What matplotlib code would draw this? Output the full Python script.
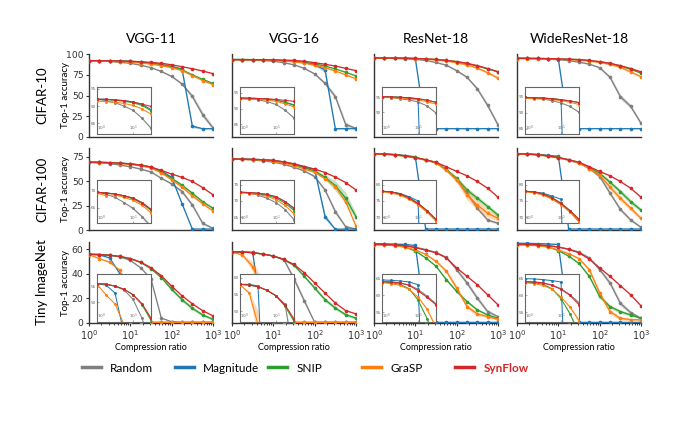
import numpy as np
import matplotlib
matplotlib.use('Agg')
import matplotlib.pyplot as plt
from matplotlib.lines import Line2D
import matplotlib.ticker as mticker

# ---------------- data ----------------
ratios = [1, 1.78, 3.16, 5.62, 10, 17.8, 31.6, 56.2, 100, 178, 316, 562, 1000]
methods = ['random', 'magnitude', 'snip', 'grasp', 'synflow']
labels = ['Random', 'Magnitude', 'SNIP', 'GraSP', 'SynFlow']
colors = ['#7f7f7f', '#1f77b4', '#2ca02c', '#ff7f0e', '#d62728']
models = ['VGG-11', 'VGG-16', 'ResNet-18', 'WideResNet-18']
datasets = ['CIFAR-10', 'CIFAR-100', 'Tiny ImageNet']

c10_vgg11 = dict(
    random=[92.0, 91.6, 91.0, 90.0, 88.8, 86.5, 83.6, 79.0, 73.0, 64.0, 49.0, 27.0, 11.0],
    magnitude=[92.0, 92.0, 91.8, 91.6, 91.2, 90.5, 89.0, 87.3, 85.0, 82.0, 13.0, 10.0, 10.0],
    snip=[92.0, 91.9, 91.7, 91.4, 91.0, 90.2, 88.7, 87.0, 84.7, 81.0, 75.0, 69.5, 64.5],
    grasp=[91.5, 91.3, 91.1, 90.8, 90.2, 89.2, 87.7, 86.0, 83.5, 80.0, 74.0, 68.0, 63.0],
    synflow=[92.0, 92.0, 91.8, 91.6, 91.2, 90.6, 89.9, 88.8, 87.0, 84.7, 82.3, 79.5, 76.3])
c10_vgg16 = dict(
    random=[93.3, 93.1, 92.8, 92.2, 91.3, 89.5, 87.0, 82.7, 76.0, 64.7, 48.6, 15.0, 10.4],
    magnitude=[93.3, 93.3, 93.2, 93.0, 92.7, 92.0, 91.0, 89.5, 87.0, 81.0, 10.0, 10.0, 10.0],
    snip=[93.3, 93.3, 93.2, 93.0, 92.7, 92.0, 91.2, 90.0, 88.0, 85.5, 82.0, 78.0, 73.5],
    grasp=[93.0, 93.0, 92.9, 92.7, 92.3, 91.5, 90.5, 89.0, 86.5, 83.5, 79.5, 75.0, 70.0],
    synflow=[93.3, 93.3, 93.2, 93.1, 92.9, 92.6, 92.3, 91.2, 89.5, 87.6, 85.5, 82.7, 80.0])
c10_resnet18 = dict(
    random=[95.2, 95.0, 94.6, 94.2, 93.5, 92.2, 89.8, 86.5, 80.0, 72.0, 58.0, 38.0, 14.5],
    magnitude=[95.3, 95.2, 95.1, 94.9, 94.5, 10.0, 10.0, 10.0, 10.0, 10.0, 10.0, 10.0, 10.0],
    snip=[95.3, 95.2, 95.1, 94.9, 94.6, 94.1, 93.4, 92.3, 90.8, 88.5, 85.5, 82.0, 78.5],
    grasp=[95.0, 95.0, 94.8, 94.6, 94.2, 93.6, 92.8, 91.5, 89.5, 87.0, 83.0, 77.5, 71.0],
    synflow=[95.3, 95.2, 95.1, 94.9, 94.6, 94.1, 93.4, 92.3, 90.8, 88.8, 86.0, 82.5, 78.7])
c10_wrn18 = dict(
    random=[94.8, 94.6, 94.3, 93.8, 93.1, 92.0, 90.2, 87.8, 83.5, 72.0, 48.6, 37.0, 16.5],
    magnitude=[94.8, 94.7, 94.6, 94.4, 94.1, 10.0, 10.0, 10.0, 10.0, 10.0, 10.0, 10.0, 10.0],
    snip=[94.8, 94.7, 94.6, 94.4, 94.1, 93.7, 93.2, 92.1, 90.6, 88.5, 85.5, 81.5, 77.0],
    grasp=[94.5, 94.4, 94.3, 94.1, 93.8, 93.3, 92.6, 91.4, 89.8, 87.5, 84.0, 78.5, 72.7],
    synflow=[94.8, 94.7, 94.6, 94.4, 94.1, 93.7, 93.2, 92.2, 90.8, 88.8, 86.0, 82.5, 78.5])

c100_vgg11 = dict(
    random=[69.5, 69.0, 68.0, 66.5, 64.8, 62.4, 59.5, 53.0, 47.3, 39.4, 25.7, 6.9, 1.7],
    magnitude=[69.5, 69.3, 69.0, 68.5, 67.8, 66.5, 64.5, 60.5, 54.0, 27.0, 1.0, 1.0, 1.0],
    snip=[69.5, 69.3, 69.0, 68.4, 67.6, 66.2, 64.2, 59.5, 53.0, 46.0, 37.7, 29.0, 22.3],
    grasp=[69.3, 68.5, 68.8, 68.0, 67.2, 65.7, 63.5, 58.5, 51.5, 44.0, 35.0, 27.0, 19.5],
    synflow=[69.5, 69.3, 69.0, 68.5, 67.8, 66.5, 64.5, 61.0, 57.3, 54.0, 49.7, 43.5, 36.0])
c100_vgg16 = dict(
    random=[72.7, 72.4, 71.8, 70.8, 69.5, 67.3, 64.2, 60.5, 54.8, 41.0, 18.8, 3.4, 1.0],
    magnitude=[72.7, 72.6, 72.4, 72.0, 71.3, 69.8, 67.5, 64.8, 62.0, 13.7, 0.7, 1.0, 1.0],
    snip=[72.7, 72.5, 72.2, 71.7, 70.9, 69.3, 67.0, 63.8, 60.5, 54.0, 45.5, 32.6, 13.7],
    grasp=[72.5, 72.3, 72.0, 71.4, 70.4, 68.6, 66.0, 62.5, 59.0, 52.5, 44.5, 29.0, 4.0],
    synflow=[72.7, 72.6, 72.4, 72.0, 71.3, 69.8, 67.8, 65.0, 62.4, 58.9, 54.2, 48.6, 41.0])
c100_resnet18 = dict(
    random=[78.0, 77.7, 77.0, 75.8, 74.0, 71.6, 68.8, 62.0, 51.4, 37.7, 22.3, 10.3, 6.9],
    magnitude=[78.0, 77.8, 77.3, 76.3, 75.0, 1.0, 1.0, 1.0, 1.0, 1.0, 1.0, 1.0, 1.0],
    snip=[78.0, 77.8, 77.2, 76.0, 74.3, 72.0, 69.2, 62.0, 53.0, 41.0, 32.6, 24.0, 15.4],
    grasp=[77.8, 77.5, 76.8, 75.5, 73.8, 71.5, 68.8, 61.0, 51.4, 36.0, 25.7, 17.0, 12.0],
    synflow=[78.0, 77.8, 77.2, 76.0, 74.2, 72.0, 69.3, 64.8, 60.0, 55.5, 49.7, 42.8, 33.6])
c100_wrn18 = dict(
    random=[78.0, 77.7, 77.0, 75.8, 74.0, 71.6, 68.5, 63.0, 54.8, 37.7, 21.2, 10.3, 2.8],
    magnitude=[78.0, 77.8, 77.4, 76.5, 75.5, 1.0, 1.0, 1.0, 1.0, 1.0, 1.0, 1.0, 1.0],
    snip=[78.0, 77.8, 77.2, 76.0, 74.3, 72.0, 69.2, 64.0, 58.0, 49.0, 39.4, 29.0, 20.5],
    grasp=[77.8, 77.5, 76.8, 75.5, 73.8, 71.5, 68.6, 63.0, 56.0, 44.0, 32.6, 22.3, 12.0],
    synflow=[78.0, 77.8, 77.2, 76.0, 74.2, 72.0, 69.3, 64.8, 60.0, 55.5, 49.7, 42.8, 33.6])

tiny_vgg11 = dict(
    random=[56.0, 55.8, 55.2, 54.0, 51.0, 45.0, 36.0, 4.0, 1.0, 0.5, 0.5, 0.5, 0.5],
    magnitude=[56.0, 55.5, 53.0, 40.0, 0.5, 0.5, 0.5, 0.5, 0.5, 0.5, 0.5, 0.5, 0.5],
    snip=[56.0, 55.8, 55.2, 54.2, 52.4, 49.3, 44.3, 37.0, 27.5, 19.0, 12.0, 6.6, 3.0],
    grasp=[55.8, 52.4, 49.5, 43.0, 1.0, 0.5, 0.5, 0.5, 0.5, 0.5, 0.5, 0.5, 0.5],
    synflow=[56.0, 55.8, 55.2, 54.2, 52.5, 49.6, 45.0, 38.5, 30.0, 22.2, 15.6, 10.1, 5.8])
tiny_vgg16 = dict(
    random=[58.0, 57.8, 57.3, 56.2, 54.6, 52.0, 36.0, 18.0, 0.5, 0.5, 0.5, 0.5, 0.5],
    magnitude=[58.0, 58.0, 57.5, 0.5, 0.5, 0.5, 0.5, 0.5, 0.5, 0.5, 0.5, 0.5, 0.5],
    snip=[58.0, 57.8, 57.3, 56.2, 54.5, 51.5, 47.0, 38.0, 28.5, 19.0, 12.2, 6.8, 4.0],
    grasp=[57.8, 55.5, 46.0, 25.0, 6.0, 1.0, 0.5, 0.5, 0.5, 0.5, 0.5, 0.5, 0.5],
    synflow=[58.0, 57.8, 57.3, 56.2, 54.6, 51.8, 47.7, 40.9, 32.6, 24.4, 16.2, 10.1, 7.4])
tiny_resnet18 = dict(
    random=[64.1, 64.0, 63.7, 63.1, 61.8, 59.8, 57.5, 53.5, 43.5, 32.6, 20.3, 9.3, 5.2],
    magnitude=[64.6, 64.5, 64.3, 64.0, 63.2, 0.5, 0.5, 0.5, 0.5, 0.5, 0.5, 0.5, 0.5],
    snip=[64.0, 63.8, 63.3, 62.0, 58.6, 53.1, 46.3, 35.3, 25.7, 17.5, 10.7, 6.6, 3.8],
    grasp=[63.8, 63.5, 63.0, 61.8, 59.5, 55.9, 50.4, 42.2, 28.5, 13.4, 7.4, 5.2, 3.0],
    synflow=[64.1, 64.0, 63.7, 63.0, 61.4, 59.4, 57.2, 53.1, 44.9, 38.0, 31.2, 23.0, 14.8])
tiny_wrn18 = dict(
    random=[64.1, 64.0, 63.7, 63.1, 62.0, 60.2, 57.8, 53.0, 43.5, 32.6, 16.0, 8.5, 3.8],
    magnitude=[65.0, 64.9, 64.7, 64.4, 64.0, 0.5, 0.5, 0.5, 0.5, 0.5, 0.5, 0.5, 0.5],
    snip=[64.0, 63.8, 63.3, 62.0, 59.0, 54.5, 48.6, 38.0, 21.6, 13.4, 9.3, 6.6, 3.8],
    grasp=[63.8, 63.5, 63.0, 61.8, 59.5, 56.5, 52.5, 43.5, 24.4, 9.3, 3.8, 2.8, 2.5],
    synflow=[64.1, 64.0, 63.7, 63.0, 61.8, 60.0, 57.2, 52.0, 44.9, 38.0, 30.4, 23.0, 14.0])

# spread (shaded bands) for the runs where it is visible
c10_vgg11_std = dict(random=[0, 0, 0, 0, 0, 0, 0.3, 0.5, 1.0, 1.5, 2.5, 3.5, 2.5],
                     magnitude=[0, 0, 0, 0, 0, 0, 0, 0, 0, 0.5, 2.0, 0.5, 0])
c10_vgg16_std = dict(random=[0, 0, 0, 0, 0, 0, 0.3, 0.5, 1.0, 2.0, 3.0, 3.0, 1.0],
                     magnitude=[0, 0, 0, 0, 0, 0, 0, 0, 1.5, 3.0, 0.5, 0, 0])
c10_resnet18_std = dict(random=[0, 0, 0, 0, 0, 0, 0.3, 0.5, 1.0, 1.5, 2.0, 2.5, 2.5],
                        grasp=[0, 0, 0, 0, 0, 0, 0, 0.3, 0.5, 0.8, 1.0, 1.5, 1.5])
c10_wrn18_std = dict(random=[0, 0, 0, 0, 0, 0, 0.3, 0.5, 1.0, 2.0, 3.0, 2.5, 2.0],
                     grasp=[0, 0, 0, 0, 0, 0, 0, 0.3, 0.5, 0.8, 1.0, 1.2, 1.2])
c100_vgg11_std = dict(random=[0, 0, 0, 0, 0.3, 0.4, 0.6, 0.8, 1.0, 1.5, 2.0, 1.5, 0.5],
                      snip=[0, 0, 0, 0, 0, 0, 0, 0.5, 0.8, 1.0, 1.2, 1.2, 1.0],
                      grasp=[0, 0, 0, 0, 0, 0, 0, 0.5, 0.8, 1.0, 1.2, 1.2, 1.0])
c100_vgg16_std = dict(random=[0, 0, 0, 0, 0, 0, 0.3, 0.5, 1.0, 1.5, 2.5, 1.0, 0],
                      magnitude=[0, 0, 0, 0, 0, 0, 0, 0, 0.5, 3.0, 0.5, 0, 0],
                      snip=[0, 0, 0, 0, 0, 0, 0, 0.5, 1.0, 2.5, 5.0, 6.0, 3.0])
c100_resnet18_std = dict(random=[0, 0, 0, 0, 0, 0, 0.3, 0.8, 1.5, 2.0, 2.0, 1.5, 1.0],
                         snip=[0, 0, 0, 0, 0, 0, 0.3, 1.0, 2.0, 2.5, 2.5, 2.5, 2.0],
                         grasp=[0, 0, 0, 0, 0, 0, 0.5, 1.5, 3.0, 5.0, 5.0, 4.0, 3.0])
c100_wrn18_std = dict(random=[0, 0, 0, 0, 0, 0, 0.3, 0.8, 1.5, 2.0, 2.0, 1.5, 1.0],
                      snip=[0, 0, 0, 0, 0, 0, 0.3, 1.0, 1.5, 2.0, 2.5, 2.5, 2.0],
                      grasp=[0, 0, 0, 0, 0, 0, 0.5, 1.0, 2.0, 3.0, 3.0, 2.5, 2.0])
tiny_vgg11_std = dict(snip=[0, 0, 0, 0, 0, 0.3, 0.6, 1.0, 1.5, 1.5, 1.5, 1.2, 1.0])
tiny_vgg16_std = dict(random=[0, 0, 0, 0, 0, 0.5, 2.0, 2.0, 0, 0, 0, 0, 0],
                      snip=[0, 0, 0, 0, 0, 0.3, 0.6, 1.0, 1.5, 1.5, 1.5, 1.2, 1.0],
                      grasp=[0, 0.5, 4.0, 10.0, 8.0, 2.0, 0, 0, 0, 0, 0, 0, 0])
tiny_resnet18_std = dict(random=[0, 0, 0, 0, 0, 0, 0.3, 0.8, 1.5, 2.0, 2.0, 1.5, 1.0],
                         snip=[0, 0, 0, 0, 0, 0.3, 0.5, 1.0, 1.0, 1.0, 1.0, 0.8, 0.6],
                         grasp=[0, 0, 0, 0, 0, 0.3, 0.6, 1.5, 2.0, 2.0, 1.5, 1.0, 0.8])
tiny_wrn18_std = dict(random=[0, 0, 0, 0, 0, 0, 0.3, 0.8, 1.5, 2.0, 2.0, 1.5, 1.0],
                      snip=[0, 0, 0, 0, 0, 0.3, 0.5, 1.0, 1.5, 1.5, 1.5, 1.0, 0.6],
                      grasp=[0, 0, 0, 0, 0, 0.3, 0.6, 1.5, 2.0, 2.0, 1.5, 1.0, 0.8])

panels = [[c10_vgg11, c10_vgg16, c10_resnet18, c10_wrn18],
          [c100_vgg11, c100_vgg16, c100_resnet18, c100_wrn18],
          [tiny_vgg11, tiny_vgg16, tiny_resnet18, tiny_wrn18]]
panel_stds = [[c10_vgg11_std, c10_vgg16_std, c10_resnet18_std, c10_wrn18_std],
              [c100_vgg11_std, c100_vgg16_std, c100_resnet18_std, c100_wrn18_std],
              [tiny_vgg11_std, tiny_vgg16_std, tiny_resnet18_std, tiny_wrn18_std]]

main_ylim = [(0, 100), (0, 84), (0, 66)]
main_yticks = [[0, 25, 50, 75, 100], [0, 25, 50, 75], [0, 20, 40, 60]]
inset_ylims = [[(82, 95.5), (82, 96.8), (82.8, 98.5), (83.5, 98)],
               [(60.4, 73.1), (63.0, 76.5), (68.0, 81.5), (68.0, 81.5)],
               [(43.7, 59.2), (46.7, 61.2), (52, 66.5), (52, 66.5)]]
inset_yticks = [[[85, 90, 95], [85, 90, 95], [90, 95], [85, 90, 95]],
                [[65, 70], [65, 70, 75], [70, 75, 80], [70, 75, 80]],
                [[50, 55], [50, 55, 60], [55, 60, 65], [55, 60, 65]]]

# ---------------- layout ----------------
W, H = 680, 421
fig = plt.figure(figsize=(W / 100, H / 100), dpi=100)
col_left = [89, 232, 374, 517]
axw = 124
row_top = [54, 148, 242]
row_bot = [137, 230, 323]
inset_b = [0.04, 0.08, 0.01]
inset_t = [0.60, 0.61, 0.61]
LABEL_FONT = ['Lato', 'DejaVu Sans']
spine_c = '#333333'


def draw(ax, data, std, lw, ms):
    for k, (m, c) in enumerate(zip(methods, colors)):
        y = np.array(data[m], dtype=float)
        if m in std:
            s = np.array(std[m], dtype=float)
            ax.fill_between(ratios, y - s, y + s, color=c, alpha=0.3, lw=0, zorder=1 + k)
        ax.plot(ratios, y, color=c, lw=lw, marker='o', ms=ms, zorder=2 + k)


for r in range(3):
    for cidx in range(4):
        left = col_left[cidx] / W
        bottom = 1 - row_bot[r] / H
        height = (row_bot[r] - row_top[r]) / H
        ax = fig.add_axes([left, bottom, axw / W, height])
        draw(ax, panels[r][cidx], panel_stds[r][cidx], 0.95, 1.6)
        ax.set_xscale('log')
        ax.set_xlim(1, 1000)
        ax.set_ylim(*main_ylim[r])
        ax.set_yticks(main_yticks[r])
        for side in ['top', 'right']:
            ax.spines[side].set_visible(False)
        for side in ['left', 'bottom']:
            ax.spines[side].set_color(spine_c)
            ax.spines[side].set_linewidth(1.0)
        ax.tick_params(colors=spine_c, labelsize=6.7, width=0.8)
        if cidx == 0:
            ax.tick_params(axis='y', length=2.5, pad=1.5)
        else:
            ax.tick_params(axis='y', length=0, labelleft=False)
        if r == 2:
            ax.xaxis.set_major_locator(mticker.LogLocator(base=10, numticks=10))
            ax.xaxis.set_minor_locator(mticker.LogLocator(base=10, subs=np.arange(2, 10), numticks=10))
            ax.tick_params(axis='x', which='major', length=2.5, pad=1.5, labelsize=7)
            ax.tick_params(axis='x', which='minor', length=1.3, width=0.5)
        else:
            ax.tick_params(axis='x', which='both', length=0, labelbottom=False)

        # inset: y labels hug the left edge, x labels sit inside the bottom edge
        ia = ax.inset_axes([0.065, inset_b[r], 0.435, inset_t[r] - inset_b[r]])
        draw(ia, panels[r][cidx], panel_stds[r][cidx], 0.75, 1.1)
        ia.set_xscale('log')
        ia.set_xlim(1, 10 ** 1.5)
        ia.set_ylim(*inset_ylims[r][cidx])
        ia.yaxis.set_major_locator(mticker.FixedLocator(inset_yticks[r][cidx]))
        ia.yaxis.set_minor_locator(mticker.NullLocator())
        ia.xaxis.set_major_locator(mticker.FixedLocator([1, 10]))
        ia.xaxis.set_minor_locator(mticker.LogLocator(base=10, subs=np.arange(2, 10), numticks=10))
        ia.xaxis.set_minor_formatter(mticker.NullFormatter())
        ia.xaxis.set_major_formatter(mticker.FixedFormatter(['$10^0$', '$10^1$']))
        for sp in ia.spines.values():
            sp.set_color('#666666')
            sp.set_linewidth(0.8)
        ia.tick_params(labelsize=3, colors='#666666', length=1.2, width=0.4, direction='in')
        ia.tick_params(axis='y', pad=0.6)
        ia.tick_params(axis='x', pad=-0.6)
        ia.tick_params(axis='x', which='minor', length=0.8, width=0.3)
        xl = ia.get_xticklabels()
        for lbl in xl:
            lbl.set_verticalalignment('bottom')
        xl[0].set_horizontalalignment('left')

        if r == 0:
            fig.text((col_left[cidx] + axw / 2) / W, 1 - 39 / H, models[cidx],
                     ha='center', va='center', fontsize=10, family=LABEL_FONT)
        if r == 2:
            fig.text((col_left[cidx] + axw / 2) / W, 1 - 348 / H, 'Compression ratio',
                     ha='center', va='center', fontsize=6.5, family=LABEL_FONT)

    ymid = 1 - (row_top[r] + row_bot[r]) / 2 / H
    fig.text(42 / W, ymid, datasets[r], rotation=90, ha='center', va='center',
             fontsize=9.5, family=LABEL_FONT)
    fig.text(65 / W, ymid, 'Top-1 accuracy', rotation=90, ha='center', va='center',
             fontsize=7, family=LABEL_FONT)

# legend
leg_x = [82, 175, 268, 362, 455]
for x0, lab, c in zip(leg_x, labels, colors):
    h = Line2D([], [], color=c, lw=2.5)
    leg = fig.legend([h], [lab], loc='center left', bbox_to_anchor=(x0 / W, 1 - 368 / H),
                     frameon=False, handlelength=1.6, handletextpad=0.8, borderpad=0,
                     borderaxespad=0, prop=dict(family=LABEL_FONT, size=8.5))
    if lab == 'SynFlow':
        t = leg.get_texts()[0]
        t.set_color(c)
        t.set_fontweight('bold')

fig.savefig('out.png', dpi=100)
